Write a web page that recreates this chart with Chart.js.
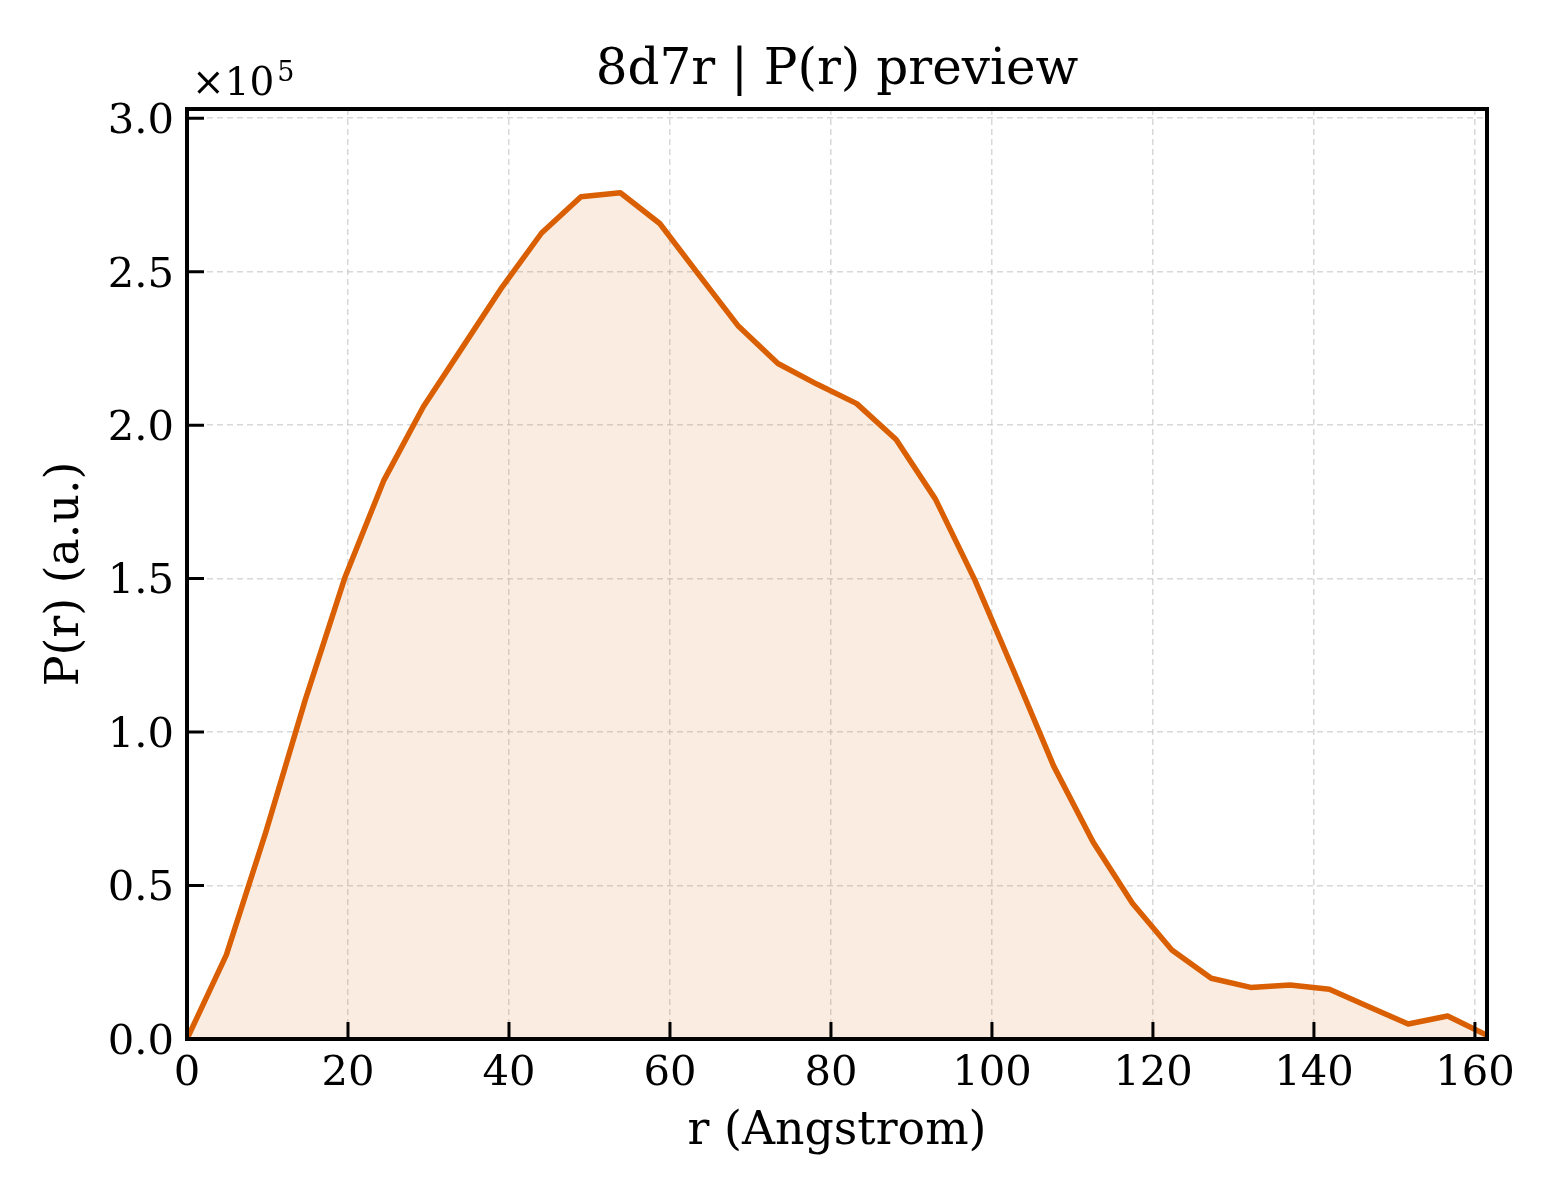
<!DOCTYPE html>
<html>
<head>
<meta charset="utf-8">
<script src="https://cdn.jsdelivr.net/npm/chart.js@4.4.1/dist/chart.umd.min.js"></script>
<style>
  body { margin: 0; background: #fff; }
  canvas { display: block; }
</style>
</head>
<body>
<canvas id="pr" width="1560" height="1200"></canvas>
<script>
// r in Angstrom, P(r) in arbitrary units
const rValues = [0, 4.89, 9.79, 14.68, 19.58, 24.47, 29.36, 34.26, 39.15, 44.05,
  48.94, 53.83, 58.73, 63.62, 68.52, 73.41, 78.30, 83.20, 88.09, 92.98,
  97.88, 102.77, 107.67, 112.56, 117.45, 122.35, 127.24, 132.14, 137.03, 141.92,
  146.82, 151.71, 156.61, 161.50];
const prValues = [0, 27400, 67400, 110400, 150100, 182100, 206000, 225500, 245000, 262600,
  274400, 275700, 265700, 248900, 232200, 220100, 213300, 207000, 195300, 175900,
  149500, 119500, 88900, 64200, 44200, 29000, 19800, 16800, 17600, 16200,
  10500, 4900, 7500, 1200];
const xTicks = [0, 20, 40, 60, 80, 100, 120, 140, 160];
const yTicks = [0, 50000, 100000, 150000, 200000, 250000, 300000];

const serif = "'DejaVu Serif', 'Liberation Serif', serif";
const lineColor = '#d95f02';

const frame = {
  id: 'frame',
  afterDraw(chart) {
    const { ctx, chartArea: a, scales } = chart;
    ctx.save();
    // inward ticks on left and bottom
    ctx.strokeStyle = '#000';
    ctx.lineWidth = 3;
    ctx.beginPath();
    xTicks.forEach(v => {
      const px = scales.x.getPixelForValue(v);
      ctx.moveTo(px, a.bottom);
      ctx.lineTo(px, a.bottom - 17);
    });
    yTicks.forEach(v => {
      const py = scales.y.getPixelForValue(v);
      ctx.moveTo(a.left, py);
      ctx.lineTo(a.left + 17, py);
    });
    ctx.stroke();
    // box
    ctx.lineWidth = 4;
    ctx.strokeRect(a.left, a.top, a.right - a.left, a.bottom - a.top);

    // title
    ctx.fillStyle = '#000';
    ctx.textAlign = 'center';
    ctx.textBaseline = 'alphabetic';
    ctx.font = '50px ' + serif;
    ctx.fillText('8d7r | P(r) preview', (a.left + a.right) / 2, 84);

    // offset text
    ctx.textAlign = 'left';
    ctx.font = '39px ' + serif;
    ctx.fillText('\u00d710', a.left + 5, 95);
    const w = ctx.measureText('\u00d710').width;
    ctx.font = '27px ' + serif;
    ctx.fillText('5', a.left + 5 + w + 3, 81);
    ctx.restore();
  }
};

new Chart(document.getElementById('pr'), {
  type: 'line',
  data: {
    datasets: [{
      data: rValues.map((r, i) => ({ x: r, y: prValues[i] })),
      borderColor: lineColor,
      borderWidth: 5.5,
      borderJoinStyle: 'round',
      backgroundColor: 'rgba(217, 95, 2, 0.12)',
      fill: 'origin',
      pointRadius: 0,
      tension: 0
    }]
  },
  options: {
    responsive: false,
    devicePixelRatio: 1,
    animation: false,
    layout: { padding: { top: 109, right: 73, left: 0, bottom: 0 } },
    plugins: {
      legend: { display: false },
      title: { display: false },
      tooltip: { enabled: false }
    },
    scales: {
      x: {
        type: 'linear',
        min: 0,
        max: 161.5,
        afterFit: s => { s.height = 161; },
        afterBuildTicks: s => { s.ticks = xTicks.map(v => ({ value: v })); },
        grid: {
          color: 'rgba(190, 190, 190, 0.6)',
          lineWidth: 1.5,
          drawTicks: false
        },
        border: { display: false, dash: [6, 4] },
        ticks: {
          color: '#000',
          padding: 10,
          font: { family: serif, size: 41.7, lineHeight: 1.2 }
        },
        title: {
          display: true,
          text: 'r (Angstrom)',
          color: '#000',
          font: { family: serif, size: 45.8, lineHeight: 1.2 },
          padding: { top: 0, bottom: 40 }
        }
      },
      y: {
        min: 0,
        max: 303000,
        afterFit: s => { s.width = 187; },
        afterBuildTicks: s => { s.ticks = yTicks.map(v => ({ value: v })); },
        grid: {
          color: 'rgba(190, 190, 190, 0.6)',
          lineWidth: 1.5,
          drawTicks: false
        },
        border: { display: false, dash: [6, 4] },
        ticks: {
          color: '#000',
          padding: 13,
          labelOffset: 4,
          font: { family: serif, size: 41.7, lineHeight: 1.2 },
          callback: v => (v / 1e5).toFixed(1)
        },
        title: {
          display: true,
          text: 'P(r) (a.u.)',
          color: '#000',
          font: { family: serif, size: 45.8, lineHeight: 1.2 },
          padding: { top: 39, bottom: 0 }
        }
      }
    }
  },
  plugins: [frame]
});
</script>
</body>
</html>
